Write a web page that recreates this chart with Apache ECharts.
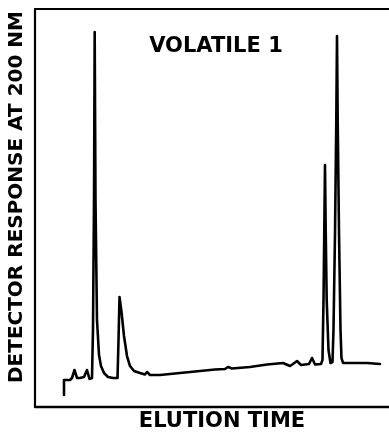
<!DOCTYPE html>
<html>
<head>
<meta charset="utf-8">
<script src="https://cdn.jsdelivr.net/npm/echarts@6/dist/echarts.min.js"></script>
<style>
  html, body { margin: 0; padding: 0; background: #fff; }
  #chart { width: 389px; height: 434px; }
</style>
</head>
<body>
<div id="chart"></div>
<script>
// Chromatogram trace: elution time (arbitrary units) vs detector response (% of full scale)
const elutionTime = [
  8.19, 8.19, 9.89, 10.45, 11.16, 11.86, 12.71, 13.84, 14.69, 15.40,
  16.10, 16.38, 16.67, 16.86, 17.09, 17.51, 18.08, 18.64, 19.49, 20.62,
  22.03, 23.31, 23.59, 23.87, 24.44, 25.14, 25.99, 26.84, 27.97, 29.66,
  31.07, 31.64, 32.49, 35.31, 39.55, 43.79, 46.61, 50.85, 53.67, 54.52,
  55.65, 60.73, 65.54, 70.06, 72.03, 72.88, 74.01, 75.14, 77.40, 78.25,
  79.10, 80.79, 81.21, 81.50, 81.72, 81.92, 82.12, 82.40, 82.91, 83.47,
  84.04, 84.32, 84.75, 85.11, 85.31, 85.51, 85.88, 86.30, 86.58, 87.01,
  89.83, 93.79, 97.46
];
const response = [
  3.02, 6.78, 6.78, 7.29, 9.30, 7.29, 7.29, 7.54, 9.30, 7.04,
  7.29, 19.35, 52.01, 94.22, 52.01, 21.86, 13.07, 10.30, 8.54, 7.54,
  7.29, 7.29, 16.83, 27.64, 23.87, 17.84, 12.81, 10.30, 9.05, 8.54,
  8.17, 8.79, 8.04, 8.04, 8.42, 8.79, 9.05, 9.42, 9.55, 10.05,
  9.67, 10.05, 10.68, 11.06, 10.30, 10.80, 11.56, 10.55, 10.80, 12.31,
  10.68, 10.80, 11.81, 26.88, 44.47, 60.80, 44.47, 26.88, 14.32, 11.06,
  11.31, 19.35, 43.72, 72.11, 93.22, 72.11, 43.72, 19.35, 12.31, 11.06,
  11.06, 11.06, 10.80
];

const titleText = 'VOLATILE 1';
const xLabel = 'ELUTION TIME';
const yLabel = 'DETECTOR RESPONSE AT 200 NM';

const trace = elutionTime.map((t, i) => [t, response[i]]);
const ink = '#000';
const font = '"DejaVu Sans", sans-serif';

const chart = echarts.init(document.getElementById('chart'), null, { renderer: 'canvas' });

const frameAxis = {
  axisTick: { show: false },
  axisLabel: { show: false },
  splitLine: { show: false }
};

chart.setOption({
  backgroundColor: '#fff',
  animation: false,
  grid: { left: 35, right: 0, top: 9, bottom: 27 },
  xAxis: [
    Object.assign({
      type: 'value', min: 0, max: 100, position: 'bottom',
      axisLine: { show: true, onZero: false, lineStyle: { color: ink, width: 2.4 } }
    }, frameAxis),
    Object.assign({
      type: 'value', min: 0, max: 100, position: 'top',
      axisLine: { show: true, onZero: false, lineStyle: { color: ink, width: 2 } }
    }, frameAxis)
  ],
  yAxis: Object.assign({
    type: 'value', min: 0, max: 100,
    axisLine: { show: true, onZero: false, lineStyle: { color: ink, width: 2.2 } }
  }, frameAxis),
  graphic: [
    {
      type: 'text', x: 216, y: 47,
      style: { text: titleText, fill: ink, font: 'bold 21px ' + font, textAlign: 'center', textVerticalAlign: 'middle' }
    },
    {
      type: 'text', x: 222, y: 422,
      style: { text: xLabel, fill: ink, font: 'bold 21px ' + font, textAlign: 'center', textVerticalAlign: 'middle' }
    },
    {
      type: 'text', x: 17, y: 197, rotation: Math.PI / 2,
      style: { text: yLabel, fill: ink, font: 'bold 20px ' + font, textAlign: 'center', textVerticalAlign: 'middle' }
    }
  ],
  series: [{
    type: 'line',
    data: trace,
    showSymbol: false,
    smooth: false,
    lineStyle: { color: ink, width: 2.6, join: 'round', cap: 'round' }
  }]
});
</script>
</body>
</html>
